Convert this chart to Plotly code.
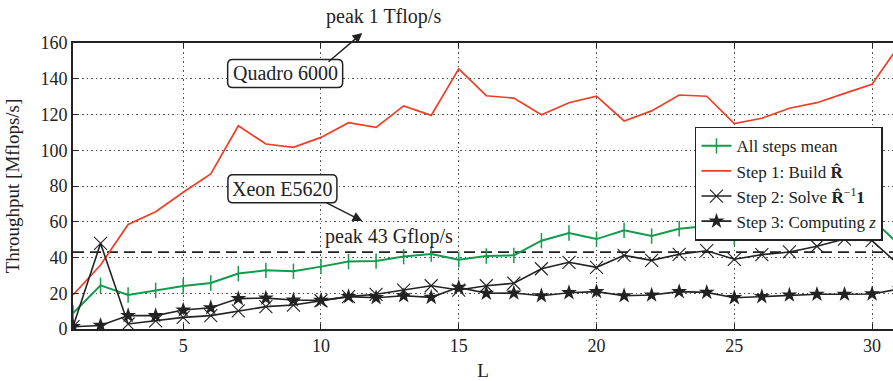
import plotly.graph_objects as go

L = list(range(1, 32))
all_steps_mean = [8.8, 24.4, 19.0, 21.6, 24.0, 25.7, 31.0, 32.8, 32.3, 34.9,
                  37.7, 38.0, 40.5, 42.0, 38.8, 40.8, 41.2, 49.4, 53.7, 50.3,
                  55.2, 52.0, 56.1, 57.6, 51.1, 53.7, 54.8, 58.0, 60.0, 61.5, 47.0]
step1_build = [19.0, 35.8, 58.5, 65.6, 76.5, 86.7, 113.7, 103.5, 101.6, 107.2,
               115.4, 112.8, 124.8, 119.5, 145.5, 130.5, 129.2, 119.9, 126.6, 130.3,
               116.4, 122.0, 130.9, 130.2, 114.9, 117.9, 123.5, 126.6, 131.8, 136.9, 159.0]
step2_solve = [1.3, 47.9, 2.8, 4.6, 6.5, 7.5, 10.1, 12.5, 13.4, 15.8,
               18.1, 19.4, 21.8, 24.2, 21.8, 24.2, 25.6, 33.7, 37.3, 34.5,
               41.2, 38.4, 41.8, 43.8, 39.0, 41.6, 43.1, 46.3, 50.3, 49.4, 35.5]
step3_compute = [1.3, 2.0, 7.5, 7.5, 10.6, 11.9, 17.0, 17.3, 16.2, 16.0,
                 18.1, 17.5, 18.6, 17.7, 23.3, 20.0, 20.1, 18.6, 20.3, 20.9,
                 18.6, 19.0, 20.9, 20.5, 17.5, 18.1, 19.0, 19.4, 19.4, 19.6, 22.4]
cpu_peak = 43

x_ticks = [5, 10, 15, 20, 25, 30]
y_ticks = [0, 20, 40, 60, 80, 100, 120, 140, 160]

FONT = "Liberation Serif, Times New Roman, serif"
RED = "#ef3e25"
GREEN = "#129b4b"

fig = go.Figure()
fig.add_trace(go.Scatter(
    x=L, y=all_steps_mean, mode="lines+markers", name="All steps mean",
    line=dict(color=GREEN, width=2),
    marker=dict(symbol="line-ns", size=11, line=dict(color=GREEN, width=1.5))))
fig.add_trace(go.Scatter(
    x=L, y=step1_build, mode="lines", name="Step 1: Build <b>R̂</b>",
    line=dict(color=RED, width=1.7)))
fig.add_trace(go.Scatter(
    x=L, y=step2_solve, mode="lines+markers",
    name="Step 2: Solve <b>R̂</b><sup>−1</sup><b>1</b>",
    line=dict(color="#222222", width=1.6),
    marker=dict(symbol="x-thin", size=13, line=dict(color="#222222", width=1.1))))
fig.add_trace(go.Scatter(
    x=L, y=step3_compute, mode="lines+markers", name="Step 3: Computing <i>z</i>",
    line=dict(color="#222222", width=1.6),
    marker=dict(symbol="star", size=12, color="#222222")))

# CPU peak dashed line
fig.add_shape(type="line", xref="paper", x0=0, x1=1, yref="y", y0=cpu_peak, y1=cpu_peak,
              line=dict(color="#222222", width=1.6, dash="11px,6px"), layer="below")


def rounded_rect(w, h, r):
    x0, x1, y0, y1 = -w / 2, w / 2, -h / 2, h / 2
    return (f"M{x0 + r},{y0} L{x1 - r},{y0} Q{x1},{y0} {x1},{y0 + r} "
            f"L{x1},{y1 - r} Q{x1},{y1} {x1 - r},{y1} L{x0 + r},{y1} "
            f"Q{x0},{y1} {x0},{y1 - r} L{x0},{y0 + r} Q{x0},{y0} {x0 + r},{y0} Z")


boxes = [("Quadro 6000", 8.70, 143.0, 115), ("Xeon E5620", 8.60, 78.4, 109)]
for text, bx, by, bw in boxes:
    fig.add_shape(type="path", xref="x", yref="y", xsizemode="pixel", ysizemode="pixel",
                  xanchor=bx, yanchor=by, path=rounded_rect(bw, 28, 5),
                  line=dict(color="#222222", width=1.5), fillcolor="white", layer="above")
    fig.add_annotation(x=bx, y=by, text=text, showarrow=False,
                       font=dict(family=FONT, size=20, color="#222222"))

# arrows
arrows = [((11.50, 165.6), (10.22, 148.8)), ((11.50, 60.4), (10.15, 71.0))]
for (hx, hy), (tx, ty) in arrows:
    fig.add_annotation(x=hx, y=hy, ax=tx, ay=ty, axref="x", ayref="y", text="",
                       showarrow=True, arrowhead=2, arrowsize=1.3, arrowwidth=1.5,
                       arrowcolor="#222222", standoff=0, startstandoff=0)

fig.add_annotation(x=12.26, yref="paper", y=1.094, yanchor="middle", xanchor="center",
                   text="peak 1 Tflop/s", showarrow=False,
                   font=dict(family=FONT, size=20, color="#222222"))
fig.add_annotation(x=12.46, y=52.0, yanchor="middle", xanchor="center",
                   text="peak 43 Gflop/s", showarrow=False,
                   font=dict(family=FONT, size=20, color="#222222"))

axis_common = dict(
    showline=True, linecolor="#222222", linewidth=1.6,
    ticks="inside", ticklen=5, tickwidth=1.2, tickcolor="#222222",
    showgrid=True, gridcolor="#555555", gridwidth=1, griddash="1.5px,3px",
    zeroline=False, tickfont=dict(family=FONT, size=18, color="#222222"),
)

fig.update_xaxes(range=[1, 30.76], tickvals=x_ticks, mirror="ticks",
                 title=dict(text="L", font=dict(family=FONT, size=19, color="#222222"),
                            standoff=8),
                 **axis_common)
fig.update_yaxes(range=[0, 160], tickvals=y_ticks,
                 title=dict(text="Throughput [Mflops/s]",
                            font=dict(family=FONT, size=19, color="#222222"), standoff=16),
                 **axis_common)

fig.update_layout(
    width=893, height=381,
    margin=dict(l=73, r=0, t=43, b=52, pad=0),
    paper_bgcolor="white", plot_bgcolor="white",
    showlegend=True,
    legend=dict(x=0.7585, y=0.707, xanchor="left", yanchor="top",
                bgcolor="white", bordercolor="#222222", borderwidth=1.5,
                font=dict(family=FONT, size=17, color="#222222"),
                tracegroupgap=0, itemwidth=30),
)

fig.write_html("out.html")
